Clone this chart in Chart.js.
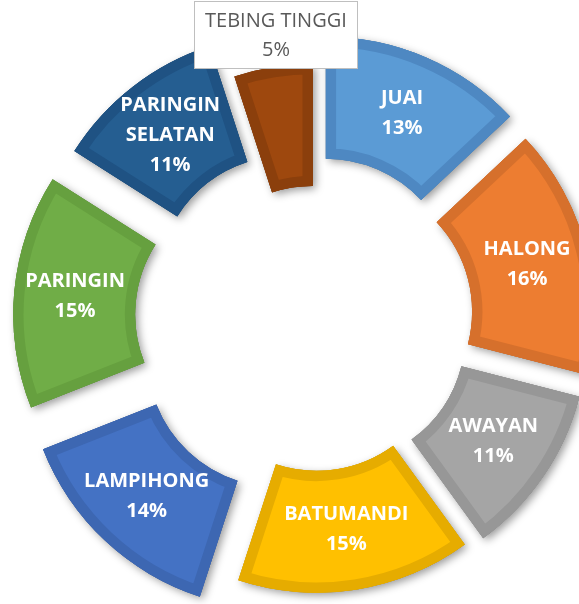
<!DOCTYPE html>
<html>
<head>
<meta charset="utf-8">
<script src="https://cdn.jsdelivr.net/npm/chart.js@4"></script>
<style>
  html, body { margin: 0; padding: 0; background: #fff; }
  #wrap { width: 579px; height: 604px; }
</style>
</head>
<body>
<div id="wrap"><canvas id="donutChart"></canvas></div>
<script>
// data
const categories = ['JUAI', 'HALONG', 'AWAYAN', 'BATUMANDI', 'LAMPIHONG', 'PARINGIN', 'PARINGIN SELATAN', 'TEBING TINGGI'];
const shares = [13, 16, 11, 15, 14, 15, 11, 5];

// look of the slices
const fillColors = ['#5B9BD5', '#ED7D31', '#A5A5A5', '#FFC000', '#4472C4', '#70AD47', '#255E91', '#9E480E'];
const edgeColors = ['#4E88C2', '#D6702C', '#979797', '#E6AC00', '#3D67B2', '#66A03F', '#1F5283', '#8B3F0C'];
const explode = [33, 30, 27, 22, 52, 48, 42, 3];
const calloutIndex = 7;

// draws each slice pushed out along its middle angle, with a soft shadow
const explodedArcs = {
    id: 'explodedArcs',
    beforeDatasetDraw(chart, args) {
        const ctx = chart.ctx;
        const arcs = args.meta.data;
        const shifted = (arc, i) => {
            const mid = (arc.startAngle + arc.endAngle) / 2;
            ctx.save();
            ctx.translate(Math.cos(mid) * explode[i], Math.sin(mid) * explode[i]);
            arc.draw(ctx);
            ctx.restore();
        };
        ctx.save();
        ctx.shadowColor = 'rgba(0,0,0,0.4)';
        ctx.shadowBlur = 8;
        ctx.shadowOffsetX = 3;
        ctx.shadowOffsetY = 3;
        arcs.forEach(shifted);
        ctx.restore();
        arcs.forEach(shifted);
        return false;
    },
    afterDatasetsDraw(chart) {
        const ctx = chart.ctx;
        const arcs = chart.getDatasetMeta(0).data;
        const total = shares.reduce((a, b) => a + b, 0);
        ctx.save();
        ctx.textAlign = 'center';
        ctx.textBaseline = 'middle';
        arcs.forEach((arc, i) => {
            const mid = (arc.startAngle + arc.endAngle) / 2;
            const pct = Math.round(shares[i] / total * 100) + '%';
            if (i === calloutIndex) {
                // boxed label sitting above the small slice
                const r = arc.outerRadius + explode[i] + 33;
                const x = arc.x + Math.cos(mid) * r + 8;
                const y = arc.y + Math.sin(mid) * r;
                const w = 163, h = 67;
                const bx = Math.round(x - w / 2), by = Math.round(y - h / 2);
                ctx.fillStyle = '#fff';
                ctx.fillRect(bx, by, w, h);
                ctx.strokeStyle = '#BFBFBF';
                ctx.lineWidth = 1;
                ctx.strokeRect(bx + 0.5, by + 0.5, w, h);
                ctx.fillStyle = '#595959';
                ctx.font = '20px "Open Sans"';
                ctx.fillText(categories[i], x, y - 13);
                ctx.fillText(pct, x, y + 16);
                return;
            }
            const r = (arc.innerRadius + arc.outerRadius) / 2 + explode[i];
            const x = arc.x + Math.cos(mid) * r;
            const y = arc.y + Math.sin(mid) * r;
            const lines = categories[i].split(' ').concat(pct);
            const lh = 30;
            ctx.fillStyle = '#fff';
            ctx.font = 'bold 20px "Open Sans"';
            lines.forEach((t, k) => {
                ctx.fillText(t, x, y + (k - (lines.length - 1) / 2) * lh);
            });
        });
        ctx.restore();
    }
};

const ctx = document.getElementById('donutChart').getContext('2d');
new Chart(ctx, {
    type: 'doughnut',
    data: {
        labels: categories,
        datasets: [{
            data: shares,
            backgroundColor: fillColors,
            borderColor: edgeColors,
            borderWidth: 10,
            borderAlign: 'inner',
            borderJoinStyle: 'miter',
            clip: false
        }]
    },
    options: {
        responsive: true,
        maintainAspectRatio: false,
        animation: false,
        radius: 252,
        cutout: '51.6%',
        layout: { padding: { left: 47, top: 34, right: 0, bottom: 0 } },
        plugins: {
            legend: { display: false },
            tooltip: { enabled: false }
        }
    },
    plugins: [explodedArcs]
});
</script>
</body>
</html>
